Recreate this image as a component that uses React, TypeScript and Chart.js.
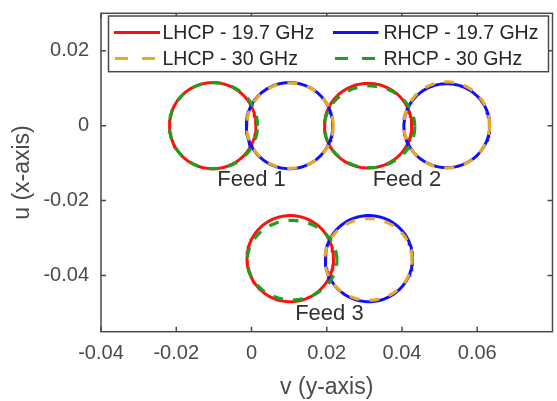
import { useEffect, useRef } from 'react';
import { Chart, registerables } from 'chart.js';

Chart.register(...registerables);

const FONT = '"Liberation Sans", Arial, Helvetica, sans-serif';

// Axis limits and tick positions (v along x, u along y)
const X_MIN = -0.04;
const X_MAX = 0.08;
const Y_MIN = -0.055;
const Y_MAX = 0.03;
const X_TICKS = [-0.04, -0.02, 0, 0.02, 0.04, 0.06];
const Y_TICKS = [-0.04, -0.02, 0, 0.02];

// Feed names and where their captions sit (v, u)
const FEEDS = ['Feed 1', 'Feed 2', 'Feed 3'];
const FEED_LABEL_V = [0, 0.0413, 0.0207];
const FEED_LABEL_U = [-0.0145, -0.0145, -0.0503];

// LHCP beam contours at 19.7 GHz: centre (v, u) and radii per feed
const LHCP_197_V = [-0.0103, 0.031, 0.0103];
const LHCP_197_U = [0, 0, -0.0355];
const LHCP_197_RV = [0.0115, 0.0116, 0.0115];
const LHCP_197_RU = [0.0115, 0.0113, 0.0115];

// RHCP beam contours at 19.7 GHz
const RHCP_197_V = [0.0101, 0.0519, 0.0312];
const RHCP_197_U = [0, 0, -0.0355];
const RHCP_197_RV = [0.0115, 0.0114, 0.0116];
const RHCP_197_RU = [0.0115, 0.0112, 0.0115];

// LHCP beam contours at 30 GHz
const LHCP_30_V = [0.0102, 0.0519, 0.0311];
const LHCP_30_U = [0, 0.0002, -0.0357];
const LHCP_30_RV = [0.0115, 0.0114, 0.0116];
const LHCP_30_RU = [0.0114, 0.0115, 0.0109];

// RHCP beam contours at 30 GHz
const RHCP_30_V = [-0.0101, 0.0314, 0.0108];
const RHCP_30_U = [0, -0.0003, -0.0359];
const RHCP_30_RV = [0.0117, 0.012, 0.0119];
const RHCP_30_RU = [0.0115, 0.0109, 0.0106];

const RED = '#ff1010';
const BLUE = '#1010ff';
const ORANGE = '#e8a828';
const GREEN = '#1f9f1f';

type Series = {
  name: string;
  color: string;
  dash: number[];
  width: number;
  order: number;
  v: number[];
  u: number[];
  rv: number[];
  ru: number[];
};

// lower order is painted later, so the dashed 30 GHz traces sit on top
const SERIES: Series[] = [
  { name: 'LHCP - 19.7 GHz', color: RED, dash: [], width: 3, order: 4, v: LHCP_197_V, u: LHCP_197_U, rv: LHCP_197_RV, ru: LHCP_197_RU },
  { name: 'RHCP - 19.7 GHz', color: BLUE, dash: [], width: 3, order: 3, v: RHCP_197_V, u: RHCP_197_U, rv: RHCP_197_RV, ru: RHCP_197_RU },
  { name: 'LHCP - 30 GHz', color: ORANGE, dash: [10, 10], width: 3.2, order: 2, v: LHCP_30_V, u: LHCP_30_U, rv: LHCP_30_RV, ru: LHCP_30_RU },
  { name: 'RHCP - 30 GHz', color: GREEN, dash: [10, 10], width: 3.2, order: 1, v: RHCP_30_V, u: RHCP_30_U, rv: RHCP_30_RV, ru: RHCP_30_RU },
];

// closed contour around a beam centre
function contour(cv: number, cu: number, rv: number, ru: number) {
  const pts: { x: number; y: number }[] = [];
  const n = 144;
  for (let k = 0; k <= n; k++) {
    const t = (k / n) * 2 * Math.PI;
    pts.push({ x: cv + rv * Math.cos(t), y: cu + ru * Math.sin(t) });
  }
  return pts;
}

const fmt = (v: number) => (Math.abs(v) < 1e-9 ? '0' : v.toFixed(2));

const framePlugin = {
  id: 'frame',
  afterDatasetsDraw(chart: any) {
    const { ctx, chartArea: a, scales } = chart;
    const xs = scales.x;
    const ys = scales.y;
    ctx.save();

    // axes box with inward ticks on all four sides
    ctx.strokeStyle = '#4a4a4a';
    ctx.lineWidth = 1.5;
    ctx.strokeRect(a.left, a.top, a.right - a.left, a.bottom - a.top);
    const tl = 5;
    ctx.beginPath();
    for (const v of X_TICKS) {
      const px = xs.getPixelForValue(v);
      ctx.moveTo(px, a.bottom);
      ctx.lineTo(px, a.bottom - tl);
      ctx.moveTo(px, a.top);
      ctx.lineTo(px, a.top + tl);
    }
    for (const v of Y_TICKS) {
      const py = ys.getPixelForValue(v);
      ctx.moveTo(a.left, py);
      ctx.lineTo(a.left + tl, py);
      ctx.moveTo(a.right, py);
      ctx.lineTo(a.right - tl, py);
    }
    ctx.stroke();

    // feed captions
    ctx.fillStyle = '#303030';
    ctx.font = `22px ${FONT}`;
    ctx.textAlign = 'center';
    ctx.textBaseline = 'middle';
    FEEDS.forEach((name, i) => {
      ctx.fillText(name, xs.getPixelForValue(FEED_LABEL_V[i]), ys.getPixelForValue(FEED_LABEL_U[i]));
    });

    // legend box
    const bx = a.left + 7.5;
    const by = a.top + 2.7;
    const bw = 440;
    const bh = 55.7;
    ctx.fillStyle = '#ffffff';
    ctx.fillRect(bx, by, bw, bh);
    ctx.strokeStyle = '#4a4a4a';
    ctx.lineWidth = 1.5;
    ctx.strokeRect(bx, by, bw, bh);

    const rows = [by + 16.5, by + 42.5];
    const cols = [
      { l0: bx + 5.5, l1: bx + 51.5, d0: bx + 6.5, d1: bx + 47, tx: bx + 54 },
      { l0: bx + 224.5, l1: bx + 270, d0: bx + 226.5, d1: bx + 267, tx: bx + 275 },
    ];
    ctx.font = `19.5px ${FONT}`;
    ctx.textAlign = 'left';
    ctx.textBaseline = 'middle';
    SERIES.forEach((s, i) => {
      const row = rows[i < 2 ? 0 : 1];
      const col = cols[i % 2];
      ctx.strokeStyle = s.color;
      ctx.lineWidth = 3;
      ctx.setLineDash(s.dash.length ? [13, 14] : []);
      ctx.beginPath();
      if (s.dash.length) {
        ctx.moveTo(col.d0, row);
        ctx.lineTo(col.d1, row);
      } else {
        ctx.moveTo(col.l0, row);
        ctx.lineTo(col.l1, row);
      }
      ctx.stroke();
      ctx.setLineDash([]);
      ctx.fillStyle = '#262626';
      ctx.fillText(s.name, col.tx, row + 1);
    });

    ctx.restore();
  },
};

export default function App() {
  const canvasRef = useRef<HTMLCanvasElement | null>(null);

  useEffect(() => {
    document.body.style.margin = '0';
    const canvas = canvasRef.current;
    if (!canvas) return;

    const datasets: any[] = [];
    SERIES.forEach((s) => {
      FEEDS.forEach((_, i) => {
        datasets.push({
          label: s.name,
          data: contour(s.v[i], s.u[i], s.rv[i], s.ru[i]),
          order: s.order,
          showLine: true,
          borderColor: s.color,
          borderWidth: s.width,
          borderDash: s.dash,
          borderCapStyle: 'butt',
          pointRadius: 0,
          pointHoverRadius: 0,
          fill: false,
          tension: 0,
        });
      });
    });

    const tickFont = { family: FONT, size: 20 };
    const titleFont = { family: FONT, size: 23 };

    const chart = new Chart(canvas, {
      type: 'scatter',
      data: { datasets },
      options: {
        animation: false,
        responsive: false,
        events: [],
        layout: { padding: { top: 13.3, right: 4.5, left: 0, bottom: 0 } },
        plugins: {
          legend: { display: false },
          tooltip: { enabled: false },
        },
        scales: {
          x: {
            type: 'linear',
            position: 'bottom',
            min: X_MIN,
            max: X_MAX,
            grid: { display: false, drawTicks: false },
            border: { display: false },
            afterBuildTicks: (s: any) => {
              s.ticks = X_TICKS.map((value) => ({ value }));
            },
            afterFit: (s: any) => {
              s.height = 69.3;
              s.paddingLeft = 0;
              s.paddingRight = 0;
            },
            ticks: {
              font: tickFont,
              color: '#4a4a4a',
              padding: 10,
              maxRotation: 0,
              autoSkip: false,
              callback: (v: any) => fmt(Number(v)),
            },
            title: {
              display: true,
              text: 'v (y-axis)',
              font: titleFont,
              color: '#4a4a4a',
              padding: { top: 0, bottom: 0 },
            },
          },
          y: {
            type: 'linear',
            position: 'left',
            min: Y_MIN,
            max: Y_MAX,
            grid: { display: false, drawTicks: false },
            border: { display: false },
            afterBuildTicks: (s: any) => {
              s.ticks = Y_TICKS.map((value) => ({ value }));
            },
            afterFit: (s: any) => {
              s.width = 101;
              s.paddingTop = 0;
              s.paddingBottom = 0;
            },
            ticks: {
              font: tickFont,
              color: '#4a4a4a',
              padding: 12,
              autoSkip: false,
              callback: (v: any) => fmt(Number(v)),
            },
            title: {
              display: true,
              text: 'u (x-axis)',
              font: titleFont,
              color: '#4a4a4a',
              padding: { top: 9, bottom: 0 },
            },
          },
        },
      },
      plugins: [framePlugin],
    });

    return () => chart.destroy();
  }, []);

  return (
    <div style={{ width: 557, height: 401, background: '#ffffff' }}>
      <canvas ref={canvasRef} width={557} height={401} style={{ display: 'block' }} />
    </div>
  );
}
